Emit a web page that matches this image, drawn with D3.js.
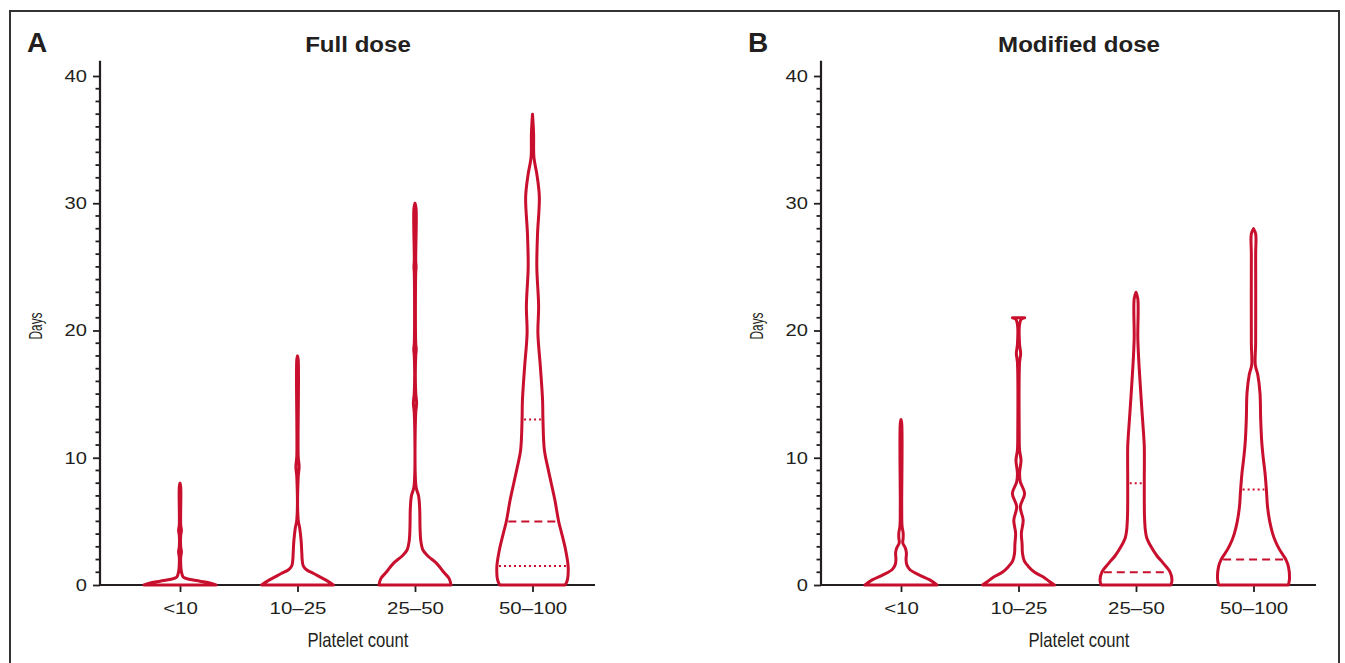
<!DOCTYPE html>
<html>
<head>
<meta charset="utf-8">
<script src="https://cdn.jsdelivr.net/npm/d3@7"></script>
<style>
  body { margin: 0; background: #fff; }
  svg { display: block; }
</style>
</head>
<body>
<div id="chart"></div>
<script>
const groups = ["<10", "10\u201325", "25\u201350", "50\u2013100"];
const yTicks = [0, 10, 20, 30, 40];

// violin outlines: [days, relative half width]
const fullLt10 = [[0, 1.0], [0.15, 0.85], [0.3, 0.55], [0.45, 0.25], [0.6, 0.1], [0.8, 0.06], [1.2, 0.03], [1.6, 0.02], [2.2, 0.02], [2.6, 0.04], [3.0, 0.02], [3.9, 0.02], [4.3, 0.04], [4.7, 0.02], [7.7, 0.02], [8, 0]];
const full10to25 = [[0, 1.0], [0.4, 0.78], [0.9, 0.45], [1.2, 0.25], [1.5, 0.16], [2.0, 0.13], [2.5, 0.12], [3.5, 0.1], [4.5, 0.06], [5.1, 0.02], [8.5, 0.02], [9.3, 0.045], [10.1, 0.02], [17.7, 0.02], [18, 0]];
const full25to50 = [[0, 1.0], [0.5, 0.95], [1.0, 0.8], [1.7, 0.6], [2.3, 0.35], [2.75, 0.22], [3.5, 0.16], [4.5, 0.14], [6, 0.13], [7, 0.1], [7.7, 0.03], [13.5, 0.02], [14.3, 0.045], [15.1, 0.02], [18, 0.02], [18.5, 0.035], [19, 0.02], [24.5, 0.02], [25, 0.03], [25.5, 0.02], [29.6, 0.03], [30, 0]];
const full50to100 = [[0, 0.91], [0.4, 0.97], [1.44, 0.99], [2.75, 0.92], [4.06, 0.81], [4.95, 0.73], [6.7, 0.62], [8.0, 0.52], [9.3, 0.42], [10.6, 0.33], [13, 0.29], [14.5, 0.28], [17.1, 0.22], [19.8, 0.15], [21.9, 0.17], [25, 0.12], [27.6, 0.14], [30.5, 0.19], [32.3, 0.12], [33.6, 0.04], [35.5, 0.03], [37, 0]];

const modLt10 = [[0, 1.0], [0.4, 0.8], [0.8, 0.5], [1.2, 0.25], [1.6, 0.16], [2.0, 0.14], [2.5, 0.15], [2.9, 0.12], [3.3, 0.05], [3.7, 0.06], [4.1, 0.06], [4.6, 0.03], [6, 0.02], [12.7, 0.02], [13, 0]];
const mod10to25 = [[0, 1.0], [0.3, 0.85], [0.65, 0.68], [1.0, 0.45], [1.44, 0.28], [1.9, 0.16], [2.5, 0.11], [3.2, 0.1], [4.06, 0.08], [5.1, 0.13], [6.15, 0.05], [7.2, 0.17], [8.1, 0.05], [8.8, 0.03], [9.8, 0.07], [10.6, 0.03], [12, 0.02], [17.5, 0.03], [18.2, 0.06], [18.9, 0.03], [20.5, 0.03], [20.9, 0.08], [21, 0.17]];
const mod25to50 = [[0, 0.97], [0.4, 1.0], [1.0, 0.95], [1.7, 0.76], [2.3, 0.58], [3.0, 0.42], [3.7, 0.3], [4.3, 0.26], [5.5, 0.235], [8, 0.23], [10.9, 0.23], [11.9, 0.21], [13.5, 0.17], [16.1, 0.11], [18, 0.07], [19.5, 0.05], [22.5, 0.05], [23, 0]];
const mod50to100 = [[0, 0.97], [0.5, 1.0], [1.44, 0.97], [2.0, 0.9], [2.8, 0.72], [3.5, 0.6], [4.06, 0.53], [5, 0.45], [6.15, 0.39], [7.4, 0.36], [8.8, 0.32], [10, 0.27], [11.2, 0.23], [13, 0.2], [15.1, 0.18], [16.5, 0.12], [17.3, 0.05], [19, 0.06], [26, 0.06], [27.6, 0.06], [28, 0]];

// [first quartile, median, third quartile] per group
const fullQuartiles = [[0, 0, 0], [0, 0, 0], [0, 0, 0], [1.5, 5, 13]];
const modQuartiles = [[0, 0, 0], [0, 0, 0], [0, 1, 8], [0, 2, 7.5]];

const width = 1345;
const height = 663;
const red = "#c8102e";
const ink = "#231f20";

const svg = d3.select("#chart").append("svg")
    .attr("width", width)
    .attr("height", height);

// outer frame
svg.append("path")
    .attr("d", `M10,663 V11 H1339 V663`)
    .attr("fill", "none")
    .attr("stroke", "#333")
    .attr("stroke-width", 2);

// stretch text horizontally to match the wider face in the figure
function stretch(sel, k) {
    sel.each(function () {
        const w = this.getComputedTextLength();
        d3.select(this).attr("textLength", w * k).attr("lengthAdjust", "spacingAndGlyphs");
    });
}

function halfWidthAt(profile, v) {
    for (let i = 1; i < profile.length; i++) {
        if (v <= profile[i][0]) {
            const [v0, w0] = profile[i - 1];
            const [v1, w1] = profile[i];
            return w0 + (w1 - w0) * (v - v0) / (v1 - v0);
        }
    }
    return 0;
}

function drawPanel(offset, letter, title, profiles, quartiles) {
    const g = svg.append("g");
    const axisX = 100 + offset;

    const y = d3.scaleLinear().domain([0, 40]).range([585, 76]);
    const x = d3.scalePoint().domain(groups).range([180 + offset, 532.5 + offset]);
    const w = d3.scaleLinear().domain([0, 1]).range([0, 36]);

    // panel letter and title
    g.append("text")
        .attr("x", 27 + offset).attr("y", 52)
        .attr("font-family", "Liberation Sans, Arial, sans-serif")
        .attr("font-weight", "bold")
        .attr("font-size", 28)
        .attr("fill", ink)
        .text(letter);
    g.append("text")
        .attr("x", 358 + offset).attr("y", 52)
        .attr("text-anchor", "middle")
        .attr("font-family", "Liberation Sans, Arial, sans-serif")
        .attr("font-weight", "bold")
        .attr("font-size", 22.5)
        .attr("fill", ink)
        .text(title)
        .call(stretch, 1.07);

    // y axis: major ticks every 10, minor every 1
    const yAxis = g.append("g")
        .attr("transform", `translate(${axisX},0)`)
        .call(d3.axisLeft(y).tickValues(yTicks).tickSize(7).tickSizeOuter(0).tickPadding(6));
    yAxis.select(".domain").remove();
    yAxis.selectAll(".tick line").attr("stroke", ink).attr("stroke-width", 1.8);
    yAxis.selectAll(".tick text")
        .attr("font-family", "Liberation Sans, Arial, sans-serif")
        .attr("font-size", 16.5)
        .attr("fill", ink)
        .call(stretch, 1.22);

    g.selectAll(".minor")
        .data(d3.range(1, 40).filter(d => d % 10 !== 0))
        .join("line")
        .attr("x1", axisX - 4.5).attr("x2", axisX)
        .attr("y1", d => y(d)).attr("y2", d => y(d))
        .attr("stroke", ink)
        .attr("stroke-width", 1.8);

    g.append("line")
        .attr("x1", axisX).attr("x2", axisX)
        .attr("y1", y(41.2)).attr("y2", y(0) + 1)
        .attr("stroke", ink)
        .attr("stroke-width", 2.2);

    // x axis
    const xAxis = g.append("g")
        .attr("transform", `translate(0,${y(0)})`)
        .call(d3.axisBottom(x).tickSize(7).tickSizeOuter(0).tickPadding(10));
    xAxis.select(".domain").remove();
    xAxis.selectAll(".tick line").attr("stroke", ink).attr("stroke-width", 1.8);
    xAxis.selectAll(".tick text")
        .attr("font-family", "Liberation Sans, Arial, sans-serif")
        .attr("font-size", 16.5)
        .attr("fill", ink)
        .call(stretch, 1.24);

    g.append("line")
        .attr("x1", axisX).attr("x2", 595 + offset)
        .attr("y1", y(0)).attr("y2", y(0))
        .attr("stroke", ink)
        .attr("stroke-width", 2.2);

    // axis titles
    g.append("text")
        .attr("x", 358 + offset).attr("y", 647)
        .attr("text-anchor", "middle")
        .attr("font-family", "Liberation Sans Narrow, Arial Narrow, sans-serif")
        .attr("font-size", 21)
        .attr("fill", ink)
        .attr("textLength", 101)
        .attr("lengthAdjust", "spacingAndGlyphs")
        .text("Platelet count");
    g.append("text")
        .attr("transform", `translate(${42 + offset},326) rotate(-90)`)
        .attr("text-anchor", "middle")
        .attr("font-family", "Liberation Sans Narrow, Arial Narrow, sans-serif")
        .attr("font-size", 18)
        .attr("fill", ink)
        .attr("textLength", 27)
        .attr("lengthAdjust", "spacingAndGlyphs")
        .text("Days");

    // violins
    groups.forEach((grp, i) => {
        const cx = x(grp);
        const profile = profiles[i];
        const area = d3.area()
            .y(d => y(d[0]))
            .x0(d => cx - w(d[1]))
            .x1(d => cx + w(d[1]))
            .curve(d3.curveCatmullRom.alpha(0.5));

        g.append("path")
            .attr("d", area(profile))
            .attr("fill", "none")
            .attr("stroke", red)
            .attr("stroke-width", 3)
            .attr("stroke-linejoin", "round")
            .attr("stroke-linecap", "round");

        const [q1, med, q3] = quartiles[i];
        [[q1, "2,3"], [med, "8,5"], [q3, "2,3"]].forEach(([v, dash]) => {
            if (v <= 0) return;
            const hw = w(halfWidthAt(profile, v)) - 2;
            g.append("line")
                .attr("x1", cx - hw).attr("x2", cx + hw)
                .attr("y1", y(v)).attr("y2", y(v))
                .attr("stroke", red)
                .attr("stroke-width", 2)
                .attr("stroke-dasharray", dash);
        });
    });
}

drawPanel(0, "A", "Full dose", [fullLt10, full10to25, full25to50, full50to100], fullQuartiles);
drawPanel(721, "B", "Modified dose", [modLt10, mod10to25, mod25to50, mod50to100], modQuartiles);
</script>
</body>
</html>
